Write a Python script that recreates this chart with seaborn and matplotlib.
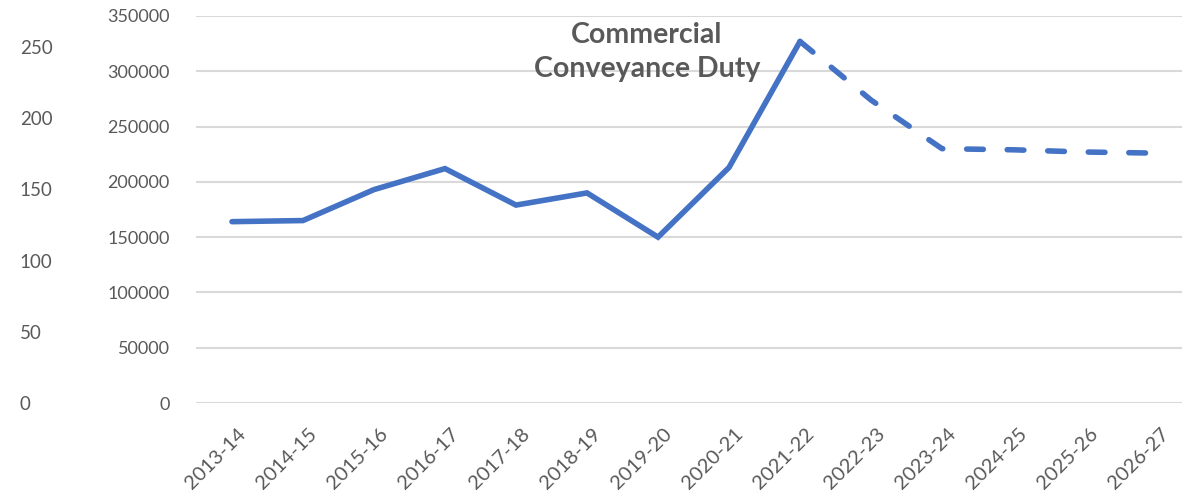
import matplotlib
matplotlib.use("Agg")
import matplotlib.pyplot as plt
import matplotlib.transforms as mtransforms
import seaborn as sns
import pandas as pd

# Financial years and Commercial Conveyance Duty receipts
years = ["2013-14", "2014-15", "2015-16", "2016-17", "2017-18", "2018-19", "2019-20",
         "2020-21", "2021-22", "2022-23", "2023-24", "2024-25", "2025-26", "2026-27"]
duty = [164000, 165000, 193000, 212000, 179000, 190000, 150000,
        213000, 327000, 274000, 230000, 229000, 227000, 226000]
last_actual = "2021-22"

# Left-hand index scale and main axis ticks
index_ticks = [0, 50, 100, 150, 200, 250]
duty_ticks = [0, 50000, 100000, 150000, 200000, 250000, 300000, 350000]

sns.set_theme(style="white")
plt.rcParams["font.family"] = ["Lato", "DejaVu Sans"]

df = pd.DataFrame({"year": years, "duty": duty})
df["pos"] = range(len(df))
split = years.index(last_actual)
actual = df.iloc[: split + 1]
forecast = df.iloc[split:]

W, H = 1186, 498
fig = plt.figure(figsize=(W / 100, H / 100), dpi=100)
fig.patch.set_facecolor("white")

left_px, right_px, top_px, bottom_px = 196, 1182, 16, 403
rect = [left_px / W, 1 - bottom_px / H, (right_px - left_px) / W, (bottom_px - top_px) / H]

# Secondary index scale drawn on the far left
ax2 = fig.add_axes(rect)
ax2.set_ylim(0, 250 * (bottom_px - top_px) / (bottom_px - 47))
ax2.set_yticks(index_ticks)
ax2.set_yticklabels([str(t) for t in index_ticks], ha="left")
ax2.tick_params(axis="y", length=0, pad=127, labelsize=13.5, labelcolor="#595959")
ax2.set_xticks([])
for s in ax2.spines.values():
    s.set_visible(False)
ax2.patch.set_visible(False)

ax = fig.add_axes(rect)
ax.patch.set_visible(False)
blue = "#4472C4"
sns.lineplot(data=actual, x="pos", y="duty", ax=ax, color=blue, linewidth=4.0,
             solid_capstyle="round", solid_joinstyle="miter")
sns.lineplot(data=forecast, x="pos", y="duty", ax=ax, color=blue, linewidth=4.0,
             dashes=False, linestyle=(0, (3.0, 4.3)), dash_capstyle="round")

ax.set_xlim(-0.507, 13.38)
ax.set_ylim(0, 350000)
ax.set_yticks(duty_ticks)
ax.set_yticklabels([str(t) for t in duty_ticks])
ax.set_xticks(df["pos"])
ax.set_xticklabels(years, rotation=45, ha="right", va="top", rotation_mode="anchor")
ax.tick_params(axis="y", length=0, pad=19, labelsize=13, labelcolor="#595959")
ax.tick_params(axis="x", length=0, pad=16, labelsize=14.5, labelcolor="#595959")
shift = mtransforms.ScaledTranslation(5 / 100, 0, fig.dpi_scale_trans)
for lbl in ax.get_xticklabels():
    lbl.set_transform(lbl.get_transform() + shift)
ax.set_xlabel("")
ax.set_ylabel("")
ax.grid(axis="y", color="#d9d9d9", linewidth=1.5)
ax.grid(axis="x", visible=False)
ax.set_axisbelow(True)
for s in ax.spines.values():
    s.set_visible(False)

fig.text(647 / W, 1 - 52 / H, "Commercial\nConveyance Duty", ha="center", va="center",
         fontsize=20.5, fontweight="bold", color="#595959", linespacing=1.38)

fig.savefig("out.png", dpi=100, facecolor="white")
